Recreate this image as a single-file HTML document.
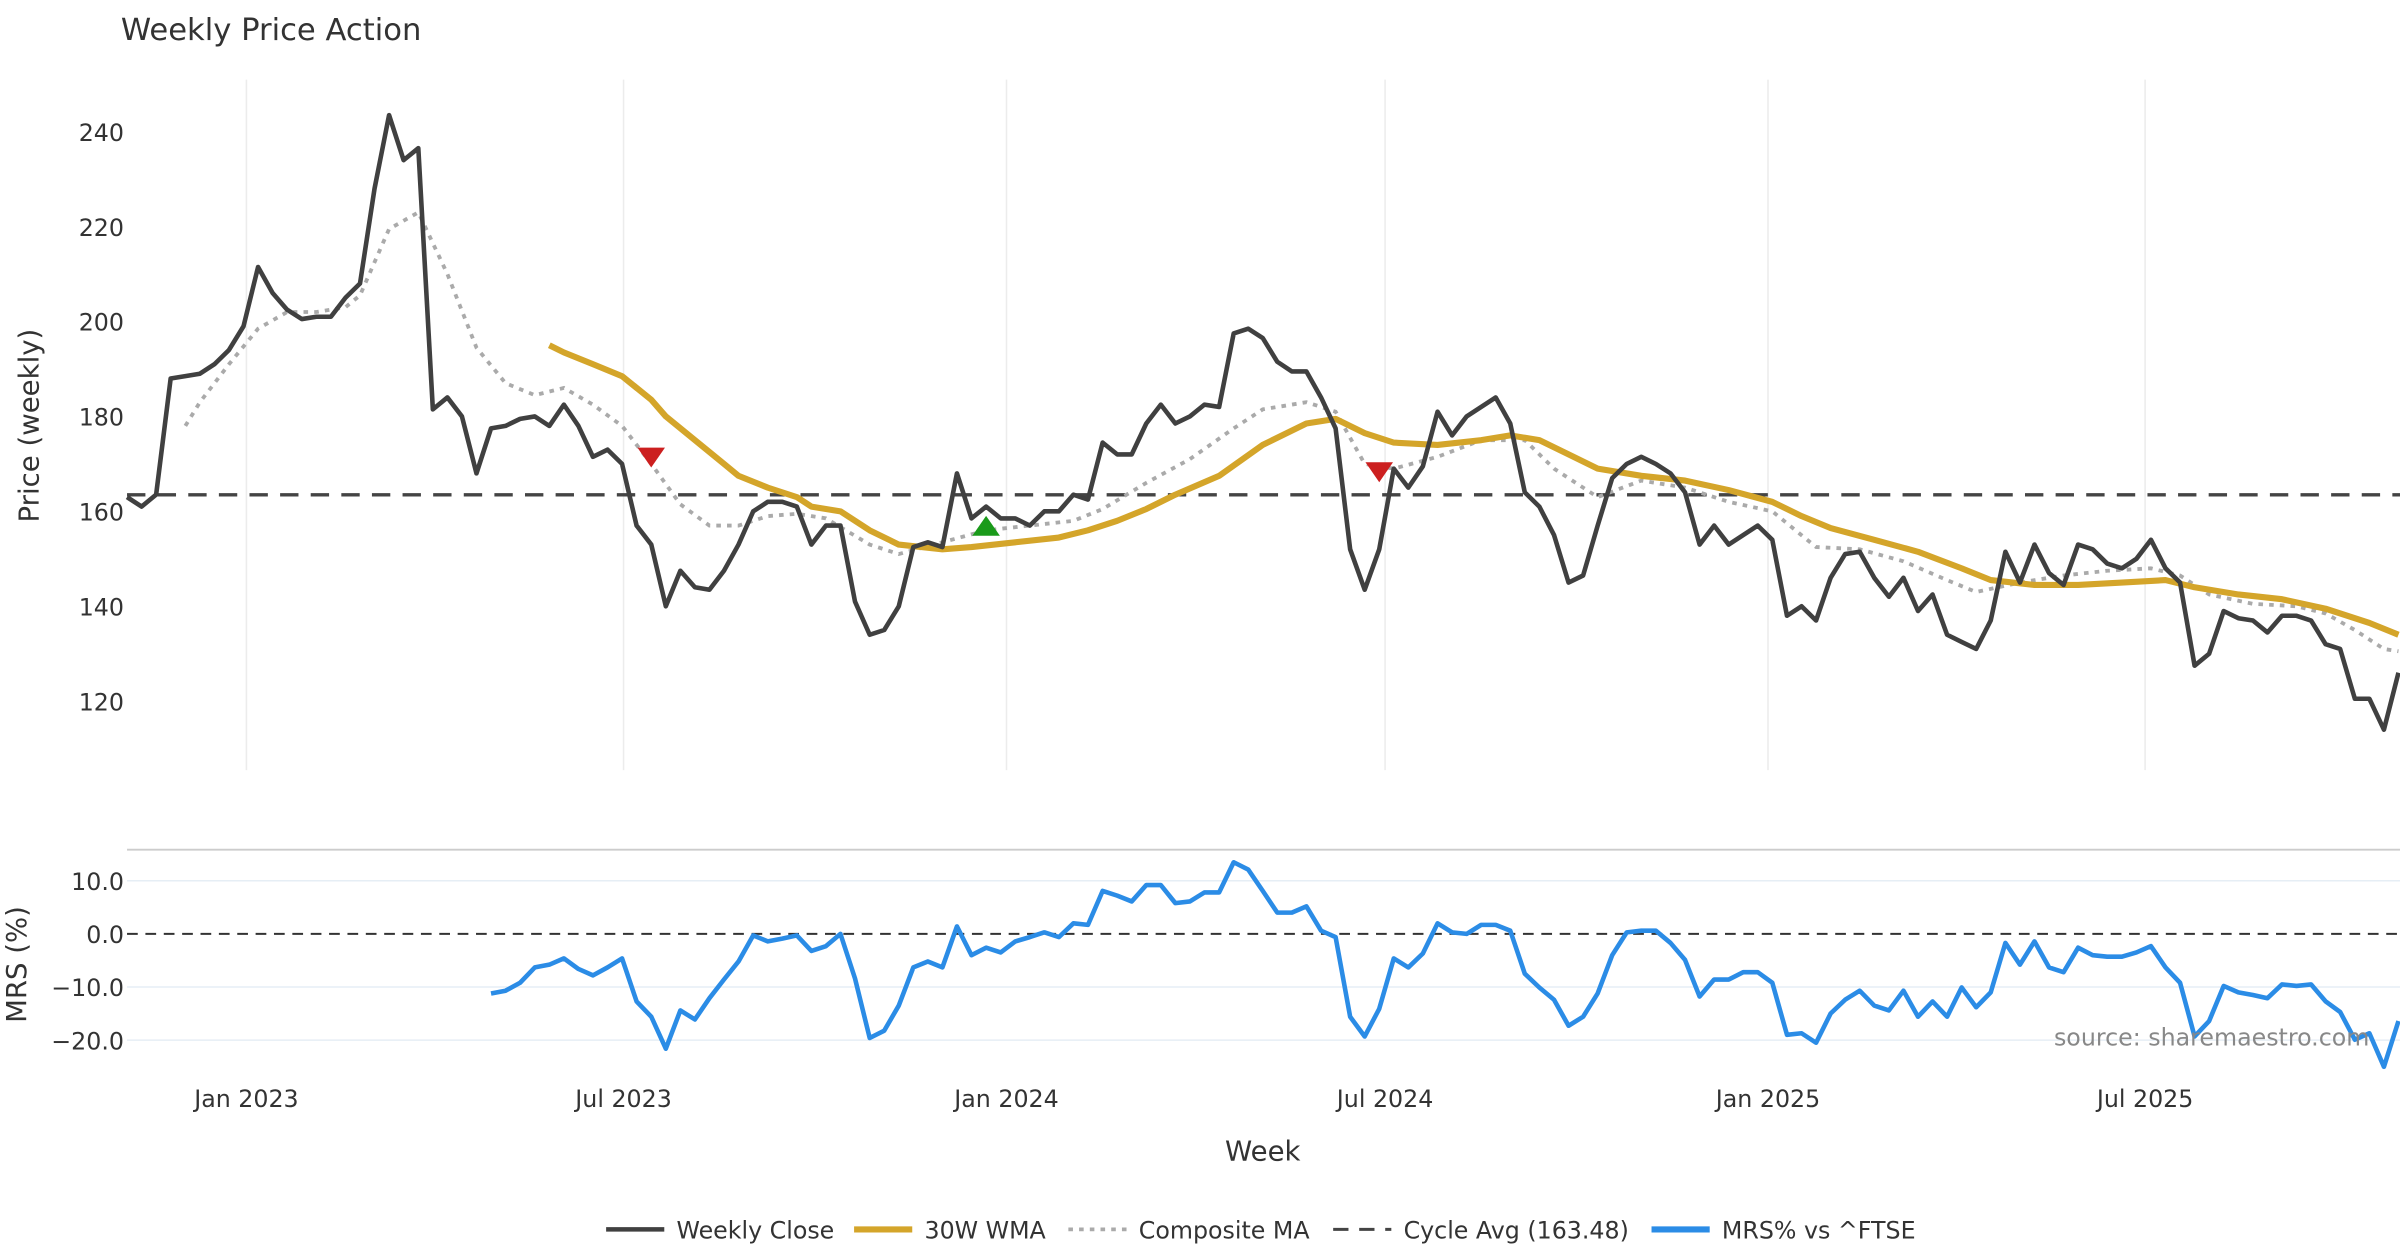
<!DOCTYPE html>
<html><head><meta charset="utf-8"><style>
html,body{margin:0;padding:0;background:#fff}
svg{display:block;font-family:"DejaVu Sans","Liberation Sans",sans-serif}
</style></head><body>
<svg id="chart" width="2400" height="1260" viewBox="0 0 1568 823" preserveAspectRatio="none" xmlns="http://www.w3.org/2000/svg">
<rect width="1568" height="823" fill="#fff"/>
<text x="79" y="26" font-size="20" fill="#333">Weekly Price Action</text>
<text transform="translate(25,278) rotate(-90)" text-anchor="middle" font-size="18" fill="#333">Price (weekly)</text>
<text transform="translate(17,630) rotate(-90)" text-anchor="middle" font-size="18" fill="#333">MRS (%)</text>
<text x="825" y="758" text-anchor="middle" font-size="18" fill="#333">Week</text>
<g id="grid"></g><g id="ticks"></g><g id="series"></g>
<text x="1548" y="683" text-anchor="end" font-size="15.5" fill="#888">source: sharemaestro.com</text>
<g id="legend"></g>
</svg>
<script>
const closeValues=[163,161,163.5,188,188.5,189,191,194,199,211.5,206,202.5,200.5,201,201,205,208,228,243.5,234,236.5,181.5,184,180,168,177.5,178,179.5,180,178,182.5,178,171.5,173,170,157,153,140,147.5,144,143.5,147.5,153,160,162,162,161,153,157,157,141,134,135,140,152.5,153.5,152.5,168,158.5,161,158.5,158.5,157,160,160,163.5,162.5,174.5,172,172,178.5,182.5,178.5,180,182.5,182,197.5,198.5,196.5,191.5,189.5,189.5,184,177.5,152,143.5,152,169,165,169.5,181,176,180,182,184,178.5,164,161,155,145,146.5,157,167,170,171.5,170,168,164,153,157,153,155,157,154,138,140,137,146,151,151.5,146,142,146,139,142.5,134,132.5,131,137,151.5,145,153,147,144.5,153,152,149,148,150,154,148,145,127.5,130,139,137.5,137,134.5,138,138,137,132,131,120.5,120.5,114,126];
const wmaWeeks=[29,30,32,34,36,37,39,41,42,44,46,47,49,51,53,56,58,61,64,66,68,70,72,75,78,81,83,85,87,90,93,95,97,99,101,104,107,110,113,115,117,120,123,126,128,131,134,137,140,142,145,148,151,154,156];
const wmaValues=[195,193.5,191,188.5,183.5,180,175,170,167.5,165,163,161,160,156,153,152,152.5,153.5,154.5,156,158,160.5,163.5,167.5,174,178.5,179.5,176.5,174.5,174,175,176,175,172,169,167.5,166.5,164.5,162,159,156.5,154,151.5,148,145.5,144.5,144.5,145,145.5,144,142.5,141.5,139.5,136.5,134];
const compWeeks=[4,5,7,9,11,13,15,16,18,20,22,24,26,28,30,32,34,36,38,40,42,44,46,48,51,53,56,59,62,65,67,70,73,76,78,81,83,85,87,90,93,96,98,101,104,107,110,113,116,119,122,125,127,130,133,136,139,141,143,146,149,151,153,155,156];
const compValues=[178,183,191,198.5,202,202,203,205.5,219.5,223,210,194.5,187,184.5,186,182.5,178,170,161.5,157,157,159,159.5,158.5,153,151,153.5,156,157,158,160.5,166,171,177.5,181.5,183,181,170,169,171.5,175,175,169,163,166.5,165,162,160,152.5,152,149.5,145.5,143,145,146.5,147.5,148,146.5,142.5,140.5,140,138.5,135,131,130.5];
const mrsValues=[-11.2,-10.7,-9.2,-6.3,-5.8,-4.6,-6.6,-7.8,-6.3,-4.6,-12.7,-15.6,-21.6,-14.4,-16.1,-12.1,-8.6,-5.2,-0.3,-1.4,-0.9,-0.3,-3.2,-2.3,0,-8.4,-19.6,-18.2,-13.5,-6.3,-5.2,-6.3,1.4,-4,-2.6,-3.5,-1.4,-0.6,0.3,-0.6,2,1.7,8.1,7.2,6.1,9.2,9.2,5.8,6.1,7.8,7.8,13.5,12.1,8.1,4,4,5.2,0.6,-0.6,-15.6,-19.3,-14.1,-4.6,-6.3,-3.7,2,0.3,0,1.7,1.7,0.6,-7.5,-10.1,-12.4,-17.3,-15.6,-11.2,-4,0.3,0.6,0.6,-1.7,-4.9,-11.8,-8.6,-8.6,-7.2,-7.2,-9.2,-19,-18.7,-20.5,-15,-12.4,-10.7,-13.5,-14.4,-10.7,-15.6,-12.7,-15.6,-10.1,-13.8,-11,-1.7,-5.8,-1.4,-6.3,-7.2,-2.6,-4,-4.3,-4.3,-3.5,-2.3,-6.3,-9.2,-19.3,-16.4,-9.8,-11,-11.5,-12.1,-9.5,-9.8,-9.5,-12.7,-14.7,-19.9,-18.7,-25,-16.4];
const sellWeeks=[36,86];
const sellValues=[171.5,168.4];
const buyWeeks=[59];
const buyValues=[156.8];
const cycleAvg=163.48;
const xTickLabels=["Jan 2023","Jul 2023","Jan 2024","Jul 2024","Jan 2025","Jul 2025"];
const xTickWeeks=[8.2,34.1,60.4,86.4,112.7,138.6];
const priceTicks=[120,140,160,180,200,220,240];
const mrsTicks=[10,0,-10,-20];

const NS="http://www.w3.org/2000/svg";
const N=closeValues.length;
const X0=83,X1=1567;
function xs(i){return X0+i*(X1-X0)/(N-1);}
function yp(v){return 86+(240-v)*3.1;}
function ym(v){return 610-v*3.47;}
function mk(tag,attrs,parent){const e=document.createElementNS(NS,tag);for(const k in attrs)e.setAttribute(k,attrs[k]);parent.appendChild(e);return e;}
const grid=document.getElementById('grid'),ticks=document.getElementById('ticks'),ser=document.getElementById('series'),leg=document.getElementById('legend');

xTickWeeks.forEach((w,k)=>{
  const g=mk('line',{x1:xs(w),x2:xs(w),y1:52,y2:503,stroke:'#ececec','stroke-width':1},grid);
  
  
  const t=mk('text',{x:xs(w),y:723,'text-anchor':'middle','font-size':15.5,fill:'#333'},ticks);
  t.textContent=xTickLabels[k];
  
  
});
priceTicks.forEach(v=>{
  const t=mk('text',{x:81,y:yp(v)+6,'text-anchor':'end','font-size':15.5,fill:'#333'},ticks);
  t.textContent=v;
  
  
});
const sep=mk('line',{x1:83,x2:1568,y1:555,y2:555,stroke:'#ccc','stroke-width':1.2},grid);


mrsTicks.forEach(v=>{
  if(v!==0){const g=mk('line',{x1:83,x2:1568,y1:ym(v),y2:ym(v),stroke:'#e6eef5','stroke-width':1},grid);
  
  }
  const t=mk('text',{x:81,y:ym(v)+6,'text-anchor':'end','font-size':15.5,fill:'#333'},ticks);
  t.textContent=(v<0?'\u2212'+Math.abs(v).toFixed(1):v.toFixed(1));
  
  
});
const zl=mk('line',{x1:83,x2:1568,y1:ym(0),y2:ym(0),stroke:'#333','stroke-width':1.3,'stroke-dasharray':'7,5'},ser);


const cl=mk('line',{x1:83,x2:1568,y1:yp(cycleAvg),y2:yp(cycleAvg),stroke:'#444','stroke-width':2.2,'stroke-dasharray':'12,8'},ser);



function path(ws,vs,yf){return ws.map((w,i)=>(i?'L':'M')+xs(w).toFixed(1)+','+yf(vs[i]).toFixed(1)).join('');}
const comp=mk('path',{d:path(compWeeks,compValues,yp),fill:'none',stroke:'#aaa','stroke-width':2.5,'stroke-dasharray':'3,4'},ser);


const wma=mk('path',{d:path(wmaWeeks,wmaValues,yp),fill:'none',stroke:'#d4a52a','stroke-width':4,'stroke-linejoin':'round'},ser);


const cw=closeValues.map((v,i)=>i);
const cp=mk('path',{d:path(cw,closeValues,yp),fill:'none',stroke:'#404040','stroke-width':3,'stroke-linejoin':'round'},ser);


const mStart=N-mrsValues.length;
const mw=mrsValues.map((v,i)=>mStart+i);
const mp=mk('path',{d:path(mw,mrsValues,ym),fill:'none',stroke:'#2b8ce6','stroke-width':3,'stroke-linejoin':'round'},ser);


sellWeeks.forEach((w,i)=>{
  const x=xs(w),y=yp(sellValues[i]);
  const t=mk('polygon',{points:`${x-9},${y-6} ${x+9},${y-6} ${x},${y+7}`,fill:'#cc1f1f'},ser);
  
  
});
buyWeeks.forEach((w,i)=>{
  const x=xs(w),y=yp(buyValues[i]);
  const t=mk('polygon',{points:`${x-9},${y+6} ${x+9},${y+6} ${x},${y-7}`,fill:'#1a9a1a'},ser);
  
  
});

const items=[["Weekly Close",'#404040',3,null,396],["30W WMA",'#d4a52a',4,null,558],["Composite MA",'#aaa',2.5,'3,4',698],["Cycle Avg (163.48)",'#444',2,'10,7',871],["MRS% vs ^FTSE",'#2b8ce6',4,null,1079]];
items.forEach(it=>{
  const g=mk('g',{},leg);
  
  
  const a={x1:it[4],x2:it[4]+38,y1:803,y2:803,stroke:it[1],'stroke-width':it[2]};
  if(it[3])a['stroke-dasharray']=it[3];
  mk('line',a,g);
  const t=mk('text',{x:it[4]+46,y:809,'font-size':15.5,fill:'#333'},g);
  t.textContent=it[0];
});
</script>
</body></html>
